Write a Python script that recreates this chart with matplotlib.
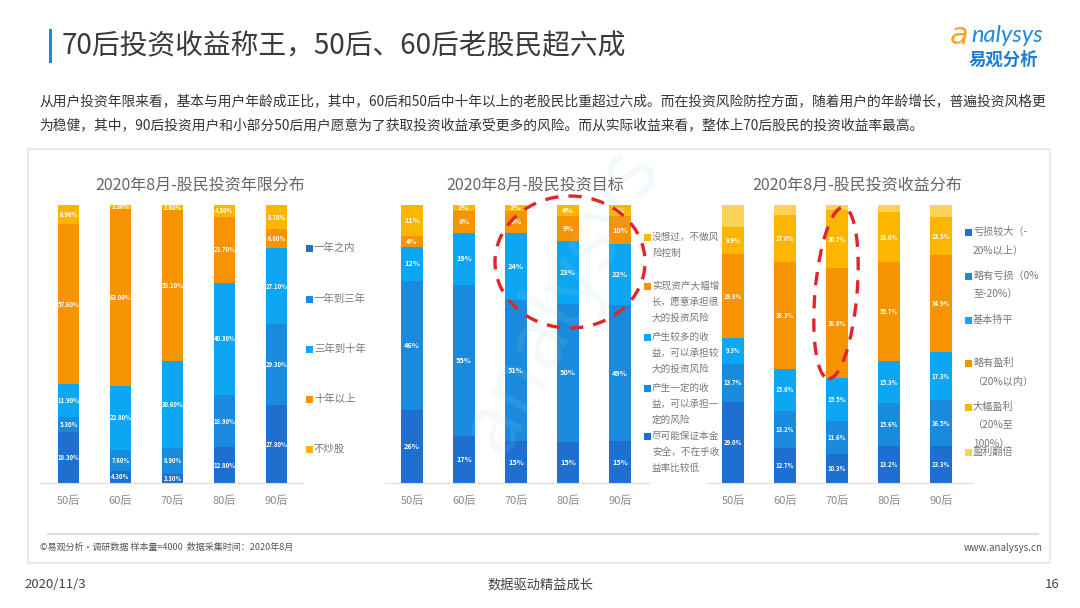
import numpy as np
import matplotlib
matplotlib.use("Agg")
import matplotlib.pyplot as plt
from matplotlib.patches import Rectangle, Ellipse
from matplotlib.lines import Line2D

plt.rcParams['font.family'] = ['Noto Sans CJK SC', 'DejaVu Sans']

# ---------------------------------------------------------------------------
# data
# ---------------------------------------------------------------------------
groups = ['50后', '60后', '70后', '80后', '90后']

# 投资年限分布 (bottom -> top)
years_labels = ['一年之内', '一年到三年', '三年到十年', '十年以上', '不炒股']
y_lt1 = [18.3, 4.3, 3.3, 12.8, 27.8]
y_1to3 = [5.3, 7.6, 8.9, 18.9, 29.3]
y_3to10 = [11.9, 22.8, 30.6, 40.3, 27.1]
y_gt10 = [57.6, 63.0, 53.1, 23.7, 6.8]
y_none = [6.9, 1.3, 1.8, 4.3, 8.7]

# 投资目标 (bottom -> top)
goal_labels = ['尽可能保证本金\n安全，不在乎收\n益率比较低',
               '产生一定的收\n益，可以承担一\n定的风险',
               '产生较多的收\n益，可以承担较\n大的投资风险',
               '实现资产大幅增\n长，愿意承担很\n大的投资风险',
               '没想过，不做风\n险控制']
g_safe = [26, 17, 15, 15, 15]
g_some = [46, 55, 51, 50, 49]
g_more = [12, 19, 24, 23, 22]
g_big = [4, 8, 8, 9, 10]
g_none = [11, 2, 2, 4, 4]

# 投资收益分布 (bottom -> top)
ret_labels = ['亏损较大（-\n20%以上）', '略有亏损（0%\n至-20%）', '基本持平',
              '略有盈利\n（20%以内）', '大幅盈利\n（20%至\n100%）', '盈利翻倍']
r_bigloss = [29.0, 12.7, 10.3, 13.2, 13.3]
r_loss = [13.7, 13.2, 11.6, 15.6, 16.5]
r_flat = [9.3, 15.0, 15.5, 15.3, 17.3]
r_gain = [29.8, 38.3, 38.8, 35.7, 34.9]
r_biggain = [9.9, 17.0, 20.7, 18.0, 13.5]
r_double = [7.8, 3.5, 1.8, 2.6, 4.4]

C_DARK = '#1f6fd1'
C_MID = '#1a8bdc'
C_LIGHT = '#0ca6f3'
C_ORANGE = '#f59300'
C_YELLOW = '#fdb600'
C_PALE = '#fdd257'

W, H = 1080, 608
fig = plt.figure(figsize=(W / 100, H / 100), dpi=100)
fig.patch.set_facecolor('white')
T = fig.dpi_scale_trans


def P(x, y):
    # pixel (top-left origin) -> inches
    return x / 100, (H - y) / 100


def ftext(x, y, s, **kw):
    fig.text(*P(x, y), s, transform=T, **kw)


# ---------------------------------------------------------------------------
# header
# ---------------------------------------------------------------------------
fig.add_artist(Rectangle(P(49, 63), 0.03, 0.34, transform=T,
                         color='#1a8bdc', lw=0))
ftext(62, 46, '70后投资收益称王，50后、60后老股民超六成', fontsize=20,
      color='#3a3a3a', va='center', ha='left')
ftext(950, 35, 'a', fontsize=22, color='#f5a623', va='center', ha='left',
      style='italic', family=['DejaVu Sans'])
ftext(971, 36, 'nalysys', fontsize=17, color='#1a8bdc', va='center',
      ha='left', style='italic', family=['Lato', 'DejaVu Sans'])
ftext(1003, 60, '易观分析', fontsize=12.5, color='#1a7fd4', va='center',
      ha='center', weight='bold')

para1 = ('从用户投资年限来看，基本与用户年龄成正比，其中，60后和50后中十年以上的老股民比重超过六成。'
         '而在投资风险防控方面，随着用户的年龄增长，普遍投资风格更')
para2 = '为稳健，其中，90后投资用户和小部分50后用户愿意为了获取投资收益承受更多的风险。而从实际收益来看，整体上70后股民的投资收益率最高。'
ftext(39, 101, para1, fontsize=9.9, color='#333333', va='center', ha='left')
ftext(39, 125, para2, fontsize=9.9, color='#333333', va='center', ha='left')

# panel (behind the charts)
fig.add_artist(Rectangle(P(28, 563), 10.22, 4.14, transform=T,
                         facecolor='white', edgecolor='#e6e6e6', lw=1.2,
                         zorder=-10))
fig.add_artist(Line2D([0.48, 10.38], [(H - 534) / 100] * 2, transform=T,
                      color='#dcdcdc', lw=1.5))
ftext(40, 547, '©易观分析·调研数据 样本量=4000  数据采集时间：2020年8月',
      fontsize=6.5, color='#555555', va='center', ha='left')
ftext(1043, 548, 'www.analysys.cn', fontsize=7, color='#555555',
      va='center', ha='right')

# footer
ftext(24, 585, '2020/11/3', fontsize=9.5, color='#444444', va='center')
ftext(540, 585, '数据驱动精益成长', fontsize=9.5, color='#444444',
      va='center', ha='center')
ftext(1060, 585, '16', fontsize=9.5, color='#444444', va='center', ha='right')


# ---------------------------------------------------------------------------
# charts
# ---------------------------------------------------------------------------
def stacked(x0, x1, first_center, series, colors, fmt, fs, skip_top=False):
    y_top, y_bot = 205, 483
    ax = fig.add_axes([x0 / W, (H - y_bot) / H, (x1 - x0) / W,
                       (y_bot - y_top) / H])
    ax.set_xlim((x0 - first_center) / 52, (x1 - first_center) / 52)
    ax.set_ylim(0, 100)
    data = np.array(series, dtype=float)
    totals = data.sum(axis=0)
    shares = data / totals * 100
    x = np.arange(len(groups))
    bottom = np.zeros(len(groups))
    for k, (row, raw) in enumerate(zip(shares, data)):
        ax.bar(x, row, 0.41, bottom=bottom, color=colors[k], lw=0)
        if not (skip_top and k == len(data) - 1):
            for i in range(len(groups)):
                ax.text(x[i], bottom[i] + row[i] / 2, fmt.format(raw[i]),
                        ha='center', va='center', color='white',
                        fontsize=fs, weight='bold')
        bottom += row
    ax.set_xticks(x)
    ax.set_xticklabels(groups, fontsize=8, color='#8c8c8c')
    ax.tick_params(axis='x', length=0, pad=9)
    ax.set_yticks([])
    for s in ['top', 'left', 'right']:
        ax.spines[s].set_visible(False)
    ax.spines['bottom'].set_color('#dddddd')
    ax.patch.set_alpha(0)
    return ax


def legend(xm, entries, fs):
    for y, color, txt in entries:
        if color is not None:
            fig.add_artist(Rectangle(P(xm - 3, y + 3.5), 0.065, 0.065,
                                     transform=T, color=color, lw=0))
        ftext(xm + 5, y, txt, fontsize=fs, color='#777777', va='center',
              ha='left')


# left
stacked(40, 303, 68.5, [y_lt1, y_1to3, y_3to10, y_gt10, y_none],
        [C_DARK, C_MID, C_LIGHT, C_ORANGE, C_YELLOW], '{:.2f}%', 4.3)
ftext(200, 185, '2020年8月-股民投资年限分布', fontsize=11.5, color='#666666',
      ha='center', va='center')
legend(309, [(248, C_DARK, years_labels[0]), (299, C_MID, years_labels[1]),
             (349, C_LIGHT, years_labels[2]), (399, C_ORANGE, years_labels[3]),
             (449, C_YELLOW, years_labels[4])], 7.5)

# middle
stacked(385, 650, 412, [g_safe, g_some, g_more, g_big, g_none],
        [C_DARK, C_MID, C_LIGHT, C_ORANGE, C_YELLOW], '{:.0f}%', 5.3)
ftext(535, 185, '2020年8月-股民投资目标', fontsize=11.5, color='#666666',
      ha='center', va='center')
mid_entries = []
for color, label, y0 in zip([C_YELLOW, C_ORANGE, C_LIGHT, C_MID, C_DARK],
                            goal_labels[::-1], [237, 286, 337, 388, 436]):
    for j, line in enumerate(label.split('\n')):
        mid_entries.append((y0 + 16 * j, color if j == 0 else None, line))
legend(647, mid_entries, 6.9)
fig.add_artist(Ellipse(P(570, 262), 1.50, 1.32, transform=T, fill=False,
                       edgecolor='#e0262b', lw=2.4, ls=(0, (4, 3)), zorder=10))

# right
stacked(708, 973, 733, [r_bigloss, r_loss, r_flat, r_gain, r_biggain, r_double],
        [C_DARK, C_MID, C_LIGHT, C_ORANGE, C_YELLOW, C_PALE], '{:.1f}%', 4.3,
        skip_top=True)
ftext(857, 185, '2020年8月-股民投资收益分布', fontsize=11.5, color='#666666',
      ha='center', va='center')
right_entries = []
for color, label, y0 in zip([C_DARK, C_MID, C_LIGHT, C_ORANGE, C_YELLOW, C_PALE],
                            ret_labels, [232, 276, 320, 363, 407, 452]):
    for j, line in enumerate(label.split('\n')):
        right_entries.append((y0 + 18.5 * j, color if j == 0 else None, line))
legend(968, right_entries, 7.3)
fig.add_artist(Ellipse(P(836, 293), 0.42, 1.72, angle=-5, transform=T,
                       fill=False, edgecolor='#e0262b', lw=2.4,
                       ls=(0, (4, 3)), zorder=10))

# watermark
ftext(560, 300, 'analysys', fontsize=60, color='#9fd3f3', alpha=0.12,
      rotation=62, va='center', ha='center', style='italic', zorder=5)

fig.savefig('out.png', dpi=100, facecolor='white')
